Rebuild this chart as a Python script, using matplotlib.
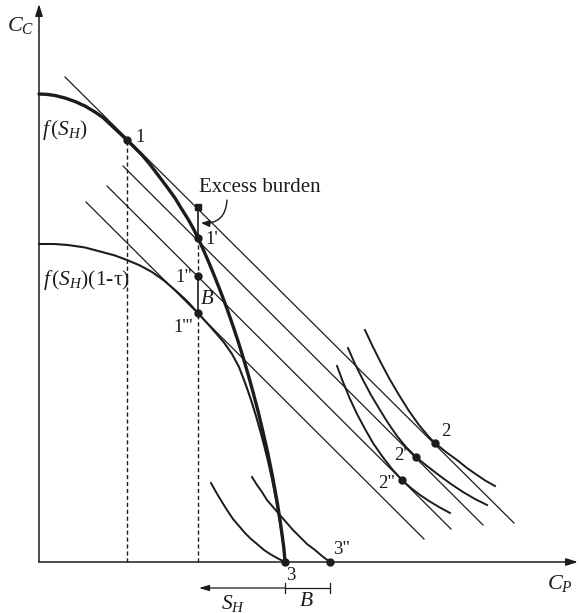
import matplotlib.pyplot as plt

plt.rcParams['font.family'] = ['Liberation Serif', 'DejaVu Serif']
plt.rcParams['mathtext.fontset'] = 'custom'
plt.rcParams['mathtext.rm'] = 'Liberation Serif'
plt.rcParams['mathtext.it'] = 'Liberation Serif:italic'

# production frontier f(S_H)  (C_P, C_C)
ppf_cp = [0, 8, 16, 26, 36, 46, 56, 64, 73, 80, 88, 96, 103, 111, 119, 128, 136, 142,
          149, 154, 159, 164, 169, 174, 179, 184, 189, 194, 199, 204, 209, 214, 219,
          224, 229, 234, 238, 241, 243, 245, 246]
ppf_cc = [468, 467.6, 466.5, 464, 460.5, 456, 450, 444.5, 436, 429.5, 422, 414, 407,
          397.5, 387, 375, 364, 354, 343, 334, 324, 313, 301.5, 289.5, 277, 264, 250.5,
          236, 221, 205, 188, 170, 151, 130, 108, 83, 61, 42, 28, 13, 0]

# after-tax frontier f(S_H)(1-tau)
tax_cp = [0, 15, 29, 46, 63, 76, 88, 101, 113, 125, 136, 148, 159, 168, 176, 185, 193,
          200, 205, 209, 213, 217, 221, 225, 229, 233, 236.5, 240, 242.5, 244.5, 246]
tax_cc = [318, 318, 317, 314.5, 310, 306.5, 302, 296.5, 290, 281.5, 272, 261, 249, 239,
          230, 219.5, 208, 195, 182, 171, 159, 146, 132, 117, 101, 83, 65, 45, 30, 15, 0]

# parallel price lines (end points)
line_cp = [[26, 475], [84, 444], [68, 412], [47, 385]]
line_cc = [[485, 39], [396, 37], [376, 33], [360, 23]]

# indifference curves
ic2_cp = [326, 333, 341, 350, 360, 370, 380, 390, 396, 407, 418, 428, 438, 447, 456]
ic2_cc = [232, 217, 201, 184, 167, 151, 137, 125, 119, 110, 102, 94, 87, 81, 76]
ic2a_cp = [309, 316, 324, 332, 341, 349, 358, 367, 377, 388, 401, 412, 424, 436, 448]
ic2a_cc = [214, 198, 182, 167, 152, 139, 126, 115, 105, 96, 86, 78, 70, 63, 57]
ic2b_cp = [298, 304, 311, 318, 326, 334, 343, 353, 363, 372, 381, 390, 400, 411]
ic2b_cc = [196, 180, 163, 148, 133, 119, 106, 93, 82, 74, 67, 61, 55, 49]
ic3_cp = [172, 177, 183, 188, 194, 200, 206, 212, 218, 225, 231, 238, 246]
ic3_cc = [79, 70, 60, 52, 43, 36, 29, 23, 18, 12, 8, 4, 0]
ic3b_cp = [213, 218, 223, 228, 234, 240, 247, 254, 261, 268, 276, 283, 291]
ic3b_cc = [85, 77, 70, 62, 55, 48, 40, 32, 25, 18, 12, 6, 0]

# labelled points
pt_names = ['1', "1'", '1"', "1'''", '2', "2'", '2"', '3', '3"']
pt_cp = [88, 159, 159, 159, 396, 377, 363, 246, 291]
pt_cc = [422, 324, 286, 249, 119, 105, 82, 0, 0]
eb_top = (159, 355)

ink = '#1c1c1c'
fig = plt.figure(figsize=(5.79, 6.13), dpi=100)
ax = fig.add_axes([0, 0, 1, 1])
ax.set_xlim(-39, 540)
ax.set_ylim(-51, 562)
ax.axis('off')

# axes with arrows
ax.annotate('', xy=(0, 558), xytext=(0, 0),
            arrowprops=dict(arrowstyle='-|>,head_length=0.7,head_width=0.22', lw=1.1,
                            color=ink, shrinkA=0, shrinkB=0))
ax.annotate('', xy=(539, 0), xytext=(0, 0),
            arrowprops=dict(arrowstyle='-|>,head_length=0.7,head_width=0.22', lw=1.1,
                            color=ink, shrinkA=0, shrinkB=0))

for xs, ys in zip(line_cp, line_cc):
    ax.plot(xs, ys, color=ink, lw=0.9)

ax.plot(ppf_cp, ppf_cc, color=ink, lw=2.4, solid_joinstyle='round', solid_capstyle='round')
ax.plot(tax_cp, tax_cc, color=ink, lw=1.5, solid_joinstyle='round')

for xs, ys in [(ic2_cp, ic2_cc), (ic2a_cp, ic2a_cc), (ic2b_cp, ic2b_cc),
               (ic3_cp, ic3_cc), (ic3b_cp, ic3b_cc)]:
    ax.plot(xs, ys, color=ink, lw=1.4, solid_joinstyle='round')

# vertical guides
ax.plot([pt_cp[0], pt_cp[0]], [0, pt_cc[0]], color=ink, lw=1, ls=(0, (3, 2)))
ax.plot([pt_cp[1], pt_cp[1]], [0, pt_cc[3]], color=ink, lw=1, ls=(0, (3, 2)))
ax.plot([pt_cp[1], pt_cp[1]], [pt_cc[1], pt_cc[2]], color=ink, lw=1, ls=(0, (3, 2)))
ax.plot([pt_cp[1], pt_cp[1]], [pt_cc[1], eb_top[1]], color=ink, lw=1.2)
ax.plot([pt_cp[1], pt_cp[1]], [pt_cc[3], pt_cc[2]], color=ink, lw=1.2)

ax.plot(pt_cp, pt_cc, 'o', color=ink, ms=5)
ax.plot([eb_top[0]], [eb_top[1]], 's', color=ink, ms=4)

offs = {'1': (8, 2, 'left'), "1'": (7, -1, 'left'), '1"': (-6, -2, 'right'),
        "1'''": (-5, -14, 'right'), '2': (6, 11, 'left'), "2'": (-9, 2, 'right'),
        '2"': (-7, -3, 'right'), '3': (6, -13, 'center'), '3"': (3, 13, 'left')}
for name, x, y in zip(pt_names, pt_cp, pt_cc):
    dx, dy, ha = offs[name]
    ax.annotate(name, (x, y), xytext=(dx, dy), textcoords='offset pixels',
                ha=ha, va='center', fontsize=13.5, color=ink)

ax.text(-18, 537, r'$C_C$', fontsize=16, ha='center', va='center', color=ink)
ax.text(521, -22, r'$C_P$', fontsize=16, ha='center', va='center', color=ink)
ax.text(3, 432, r'$f\,(S_H)$', fontsize=15.5, ha='left', va='center', color=ink)
ax.text(4, 282, r'$f\,(S_H)$(1-τ)', fontsize=15.5, ha='left', va='center', color=ink)
ax.text(160, 375, 'Excess burden', fontsize=15, ha='left', va='center', color=ink)
ax.text(161, 263, r'$B$', fontsize=15, ha='left', va='center', color=ink)

ax.annotate('', xy=(162, 339), xytext=(188, 362),
            arrowprops=dict(arrowstyle='-|>,head_length=0.5,head_width=0.2', lw=1,
                            color=ink, connectionstyle='arc3,rad=-0.5',
                            shrinkA=0, shrinkB=0))

# S_H and B brackets under the axis
ax.annotate('', xy=(160, -26), xytext=(246, -26),
            arrowprops=dict(arrowstyle='-|>,head_length=0.6,head_width=0.18', lw=0.9,
                            color=ink, shrinkA=0, shrinkB=0))
ax.plot([246, 291], [-26, -26], color=ink, lw=0.9)
ax.plot([246, 246], [-21, -31], color=ink, lw=0.9)
ax.plot([291, 291], [-21, -31], color=ink, lw=0.9)
ax.text(194, -41, r'$S_H$', fontsize=15.5, ha='center', va='center', color=ink)
ax.text(267, -40, r'$B$', fontsize=15.5, ha='center', va='center', color=ink)

fig.savefig('out.png', dpi=100)
